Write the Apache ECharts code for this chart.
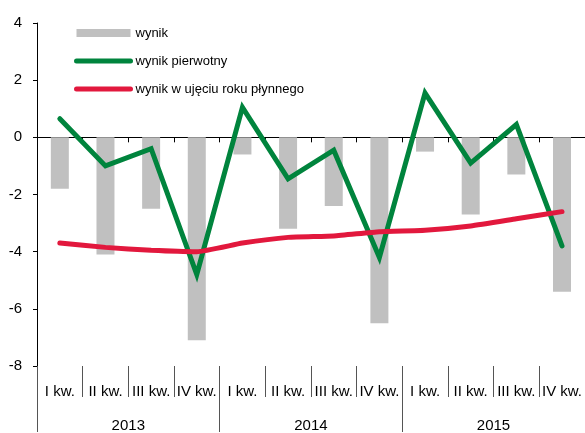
<!DOCTYPE html>
<html>
<head>
<meta charset="utf-8">
<script src="https://cdn.jsdelivr.net/npm/echarts@6/dist/echarts.min.js"></script>
<style>
  html, body { margin: 0; padding: 0; background: #fff; }
  #chart { width: 585px; height: 433px; }
</style>
</head>
<body>
<div id="chart"></div>
<script>
  // dane
  var quarters = ['I kw.', 'II kw.', 'III kw.', 'IV kw.', 'I kw.', 'II kw.', 'III kw.', 'IV kw.', 'I kw.', 'II kw.', 'III kw.', 'IV kw.'];
  var years = ['2013', '2014', '2015'];
  var wynik = [-1.8, -4.1, -2.5, -7.1, -0.6, -3.2, -2.4, -6.5, -0.5, -2.7, -1.3, -5.4];
  var wynikPierwotny = [0.65, -1.0, -0.4, -4.8, 1.05, -1.45, -0.45, -4.2, 1.55, -0.9, 0.45, -3.8];
  var wynikRoczny = [-3.7, -3.85, -3.95, -4.0, -3.7, -3.5, -3.45, -3.3, -3.25, -3.1, -2.85, -2.6];
  var yTicks = [-8, 4, 2];  // min, max, krok

  var font = "'Liberation Sans', Arial, sans-serif";
  var green = '#00843d', red = '#e2183d';

  var chart = echarts.init(document.getElementById('chart'));
  var option = {
    animation: false,
    textStyle: { fontFamily: font },
    grid: { left: 37, right: 0, top: 23, bottom: 67, containLabel: false },
    legend: {
      orient: 'vertical',
      left: 69,
      top: 20,
      itemWidth: 54,
      itemHeight: 8,
      itemGap: 12,
      textStyle: { fontFamily: font, fontSize: 13, color: '#000', lineHeight: 16 },
      lineStyle: { width: 5, cap: 'round' },
      data: [
        { name: 'wynik', icon: 'rect' },
        { name: 'wynik pierwotny', itemStyle: { opacity: 0 } },
        { name: 'wynik w ujęciu roku płynnego', itemStyle: { opacity: 0 } }
      ]
    },
    xAxis: [
      {
        type: 'category',
        data: quarters,
        axisLine: { onZero: true, lineStyle: { color: '#000', width: 1 } },
        axisTick: { show: true, length: 5, lineStyle: { color: '#000' } },
        axisLabel: { show: false }
      },
      {
        type: 'category',
        data: quarters,
        position: 'bottom',
        axisLine: { show: false, onZero: false },
        axisTick: { show: true, length: 31, lineStyle: { color: '#555' } },
        axisLabel: { margin: 18, fontFamily: font, fontSize: 15, color: '#000', interval: 0 }
      },
      {
        type: 'category',
        data: years,
        position: 'bottom',
        axisLine: { show: false, onZero: false },
        axisTick: { show: true, length: 66, lineStyle: { color: '#555' } },
        axisLabel: { margin: 52, fontFamily: font, fontSize: 15, color: '#000' }
      }
    ],
    yAxis: {
      type: 'value',
      min: yTicks[0],
      max: yTicks[1],
      interval: yTicks[2],
      axisLine: { show: true, lineStyle: { color: '#000', width: 1 } },
      axisTick: { show: true, length: 4, lineStyle: { color: '#000' } },
      axisLabel: { margin: 15, fontFamily: font, fontSize: 15, color: '#000' },
      splitLine: { show: false }
    },
    series: [
      {
        name: 'wynik',
        type: 'bar',
        data: wynik,
        barWidth: 18,
        itemStyle: { color: '#c0c0c0' }
      },
      {
        name: 'wynik pierwotny',
        type: 'line',
        data: wynikPierwotny,
        symbol: 'none',
        lineStyle: { color: green, width: 5, cap: 'round', join: 'miter' },
        itemStyle: { color: green }
      },
      {
        name: 'wynik w ujęciu roku płynnego',
        type: 'line',
        data: wynikRoczny,
        symbol: 'none',
        smooth: 0.15,
        lineStyle: { color: red, width: 5, cap: 'round' },
        itemStyle: { color: red }
      }
    ]
  };
  chart.setOption(option);
</script>
</body>
</html>
